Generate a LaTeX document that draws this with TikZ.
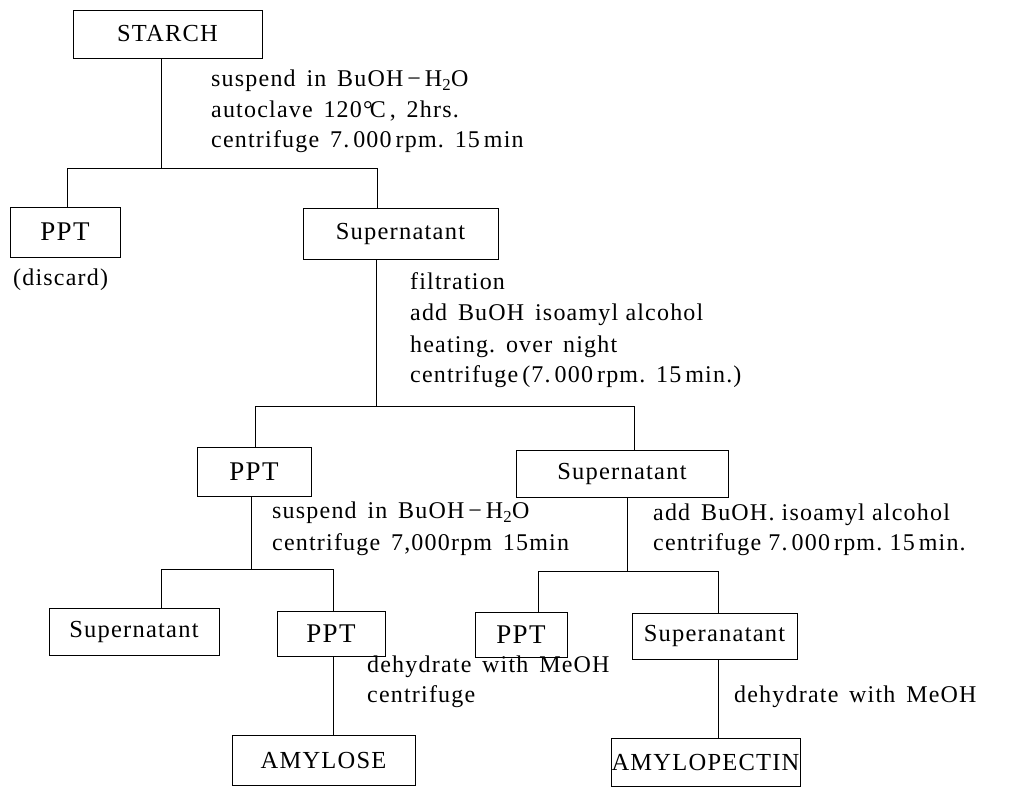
\documentclass[tikz,border=0pt]{standalone}
\usepackage{fontspec}
\setmainfont{Liberation Serif}[LetterSpace=5]
\newcommand{\wsp}{\hspace{0.45em}}
\begin{document}
\begin{tikzpicture}[x=1pt,y=-1pt,
  box/.style={draw,line width=1pt,inner sep=0pt,font=\fontsize{24.5}{28}\selectfont},
  pptbox/.style={box,font=\fontsize{27}{30}\selectfont},
  lbl/.style={anchor=mid west,inner sep=0pt,font=\fontsize{24}{28}\selectfont},
  conn/.style={line width=1pt}]
\useasboundingbox (0,0) rectangle (1019,787);
\clip (0,0) rectangle (1019,787);

% boxes
\node[box,minimum width=189pt,minimum height=48pt] (starch) at (167.5,34) {STARCH};
\node[pptbox,minimum width=110pt,minimum height=50pt] (ppt1) at (65,232) {PPT};
\node[box,minimum width=195pt,minimum height=51pt] (sup1) at (400.5,233.5) {Supernatant};
\node[pptbox,minimum width=114pt,minimum height=49pt] (ppt2) at (254,471.5) {PPT};
\node[box,minimum width=212pt,minimum height=47pt] (sup2) at (622,473.5) {Supernatant};
\node[box,minimum width=170pt,minimum height=47pt] (sup3) at (134,631.5) {Supernatant};
\node[pptbox,minimum width=108pt,minimum height=45pt] (ppt3) at (331,633.5) {PPT};
\node[pptbox,minimum width=92pt,minimum height=45pt] (ppt4) at (521,634.5) {PPT};
\node[box,minimum width=165pt,minimum height=46pt] (supera) at (714.5,636) {Superanatant};
\node[box,minimum width=183pt,minimum height=50pt] (amylose) at (323.5,760) {AMYLOSE};
\node[box,minimum width=189pt,minimum height=48pt] (amylopectin) at (705.5,762) {AMYLOPECTIN};

% junctions
\coordinate (j1) at (161,168); \coordinate (j1l) at (67,168); \coordinate (j1r) at (377,168);
\coordinate (j2) at (376,406); \coordinate (j2l) at (255,406); \coordinate (j2r) at (634,406);
\coordinate (j3) at (251,569); \coordinate (j3l) at (161,569); \coordinate (j3r) at (333,569);
\coordinate (j4) at (627,571); \coordinate (j4l) at (538,571); \coordinate (j4r) at (718,571);

% connectors
\draw[conn] (starch.south -| j1) -- (j1);
\draw[conn] (ppt1.north -| j1l) -- (j1l) -- (j1r) -- (sup1.north -| j1r);
\draw[conn] (sup1.south -| j2) -- (j2);
\draw[conn] (ppt2.north -| j2l) -- (j2l) -- (j2r) -- (sup2.north -| j2r);
\draw[conn] (ppt2.south -| j3) -- (j3);
\draw[conn] (sup3.north -| j3l) -- (j3l) -- (j3r) -- (ppt3.north -| j3r);
\draw[conn] (ppt3.south -| j3r) -- (amylose.north -| j3r);
\draw[conn] (sup2.south -| j4) -- (j4);
\draw[conn] (ppt4.north -| j4l) -- (j4l) -- (j4r) -- (supera.north -| j4r);
\draw[conn] (supera.south -| j4r) -- (amylopectin.north -| j4r);

% labels
\node[lbl] (a1) at (211,84) {suspend\wsp in\wsp BuOH\,−\,H\textsubscript{2}O};
\node[lbl] (a2) at (211,115) {autoclave\wsp 120\kern0.05em°\kern-0.12em C\,,\wsp 2hrs.};
\node[lbl] (a3) at (211,145) {centrifuge\wsp 7.\,000\,rpm.\wsp 15\,min};
\node[lbl] (disc) at (13,283) {(discard)};
\node[lbl] (b1) at (410,287) {filtration};
\node[lbl] (b2) at (410,318) {add\wsp BuOH\wsp isoamyl alcohol};
\node[lbl] (b3) at (410,350) {heating.\wsp over\wsp night};
\node[lbl] (b4) at (410,380) {centrifuge\,(7.\,000\,rpm.\wsp 15\,min.)};
\node[lbl] (c1) at (272,516) {suspend\wsp in\wsp BuOH\,−\,H\textsubscript{2}O};
\node[lbl] (c2) at (272,548) {centrifuge\wsp 7,000rpm\wsp 15min};
\node[lbl] (d1) at (653,518) {add\wsp BuOH.\ isoamyl\ alcohol};
\node[lbl] (d2) at (653,548) {centrifuge\ 7.\,000\,rpm.\ 15\,min.};
\node[lbl] (e1) at (367,670) {dehydrate\wsp with\wsp MeOH};
\node[lbl] (e2) at (367,700) {centrifuge};
\node[lbl] (f1) at (734,700) {dehydrate\wsp with\wsp MeOH};
\end{tikzpicture}
\end{document}
